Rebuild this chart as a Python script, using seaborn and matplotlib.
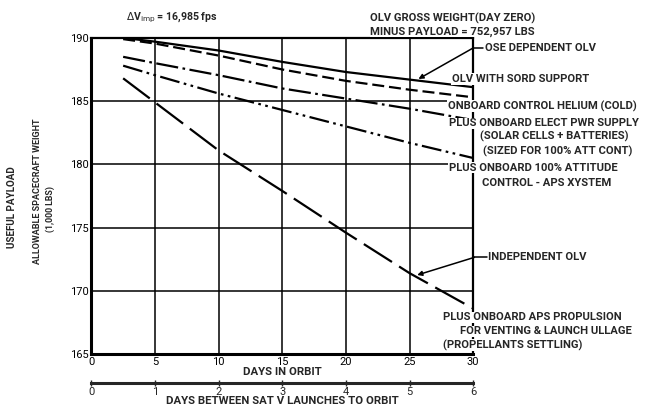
import numpy as np
import pandas as pd
import matplotlib
matplotlib.use("Agg")
import matplotlib.pyplot as plt
import seaborn as sns

sns.set_theme(style="white")
plt.rcParams["font.family"] = ["Roboto", "DejaVu Sans"]

# ── data ────────────────────────────────────────────────────
DAYS = [2.5, 5, 10, 15, 20, 25, 30]
OSE_DEPENDENT   = [190.0, 189.7, 189.0, 188.1, 187.3, 186.7, 186.1]
SORD_SUPPORT    = [189.9, 189.55, 188.6, 187.5, 186.6, 185.9, 185.3]
CONTROL_HELIUM  = [188.5, 188.0, 187.05, 186.0, 185.2, 184.4, 183.5]
ELECT_POWER     = [187.8, 187.05, 185.6, 184.3, 183.0, 181.7, 180.5]
INDEPENDENT_OLV = [186.8, 184.9, 181.1, 177.9, 174.6, 171.4, 168.6]

CASES = ["ose", "sord", "helium", "power", "independent"]
SERIES = [OSE_DEPENDENT, SORD_SUPPORT, CONTROL_HELIUM, ELECT_POWER, INDEPENDENT_OLV]
DASHES = {
    "ose": "",
    "sord": (5.4, 2.2),
    "helium": (10, 2, 1.2, 2),
    "power": (9, 2, 1.2, 2, 1.2, 2),
    "independent": (15, 3.8),
}

Y_TICKS = [165, 170, 175, 180, 185, 190]
X_TICKS = [0, 5, 10, 15, 20, 25, 30]
LAUNCH_TICKS = [0, 1, 2, 3, 4, 5, 6]

df = pd.DataFrame({
    "day": np.tile(DAYS, len(CASES)),
    "weight": np.concatenate(SERIES),
    "case": np.repeat(CASES, len(DAYS)),
})

# ── figure ──────────────────────────────────────────────────
fig = plt.figure(figsize=(6.45, 4.07), dpi=100)
ax = fig.add_axes([0.1416, 0.130, 0.592, 0.777])

sns.lineplot(data=df, x="day", y="weight", style="case", dashes=DASHES,
             color="black", linewidth=1.6, legend=False, ax=ax, zorder=3)

ax.set_xlim(0, 30)
ax.set_ylim(165, 190)
ax.set_xticks(X_TICKS)
ax.set_yticks(Y_TICKS)
ax.grid(True, color="black", linewidth=1.1)
for sp in ax.spines.values():
    sp.set_color("black")
    sp.set_linewidth(1.6)
ax.spines["left"].set_linewidth(2.2)
ax.spines["bottom"].set_linewidth(2.2)
ax.tick_params(axis="both", length=0, labelsize=8, colors="black", pad=2)
ax.set_xlabel("DAYS IN ORBIT", fontsize=8.2, fontweight="bold", labelpad=0)
ax.set_ylabel("")

# second scale: days between Saturn V launches
sec = ax.secondary_xaxis(-0.092, functions=(lambda d: d / 5, lambda n: n * 5))
sec.set_xticks(LAUNCH_TICKS)
sec.spines["bottom"].set_linewidth(2.2)
sec.tick_params(axis="x", direction="inout", length=4, width=1,
                labelsize=8, pad=1)
sec.set_xlabel("DAYS BETWEEN SAT V LAUNCHES TO ORBIT", fontsize=8.2,
               fontweight="bold", labelpad=-1)

# y label block (three lines)
fig.text(0.019, 0.491, "USEFUL PAYLOAD", rotation=90, fontsize=7.1,
         fontweight="bold", ha="center", va="center")
fig.text(0.058, 0.531, "ALLOWABLE SPACECRAFT WEIGHT", rotation=90,
         fontsize=6.5, fontweight="bold", ha="center", va="center")
fig.text(0.078, 0.486, "(1,000 LBS)", rotation=90, fontsize=6.3,
         fontweight="bold", ha="center", va="center")

# ── annotations ─────────────────────────────────────────────
box = dict(facecolor="white", edgecolor="none", pad=0.4)
txt = dict(fontsize=8.1, fontweight="bold", va="center", ha="left",
           clip_on=False, bbox=box, zorder=5)

ax.text(6.3, 191.55, r"$\Delta$V$_{\mathrm{imp}}$ = 16,985 fps",
        fontsize=7.6, fontweight="bold", ha="center", va="center", clip_on=False)
ax.text(21.9, 191.55, "OLV GROSS WEIGHT(DAY ZERO)", **txt)
ax.text(21.9, 190.5, "MINUS PAYLOAD = 752,957 LBS", **txt)
ax.text(30.9, 189.2, "OSE DEPENDENT OLV", **txt)
ax.text(28.3, 186.75, "OLV WITH SORD SUPPORT", **txt)
ax.text(28.0, 184.6, "ONBOARD CONTROL HELIUM (COLD)", **txt)
ax.text(28.1, 183.25, "PLUS ONBOARD ELECT PWR SUPPLY", **txt)
ax.text(30.5, 182.2, "(SOLAR CELLS + BATTERIES)", **txt)
ax.text(30.8, 181.05, "(SIZED FOR 100% ATT CONT)", **txt)
ax.text(28.1, 179.75, "PLUS ONBOARD 100% ATTITUDE", **txt)
ax.text(30.7, 178.5, "CONTROL - APS XYSTEM", **txt)
ax.text(31.2, 172.65, "INDEPENDENT OLV", **txt)
ax.text(27.6, 167.9, "PLUS ONBOARD APS PROPULSION", **txt)
ax.text(29.0, 166.8, "FOR VENTING & LAUNCH ULLAGE", **txt)
ax.text(27.6, 165.7, "(PROPELLANTS SETTLING)", **txt)

# leader lines with arrows
lead = dict(color="black", linewidth=1.1, clip_on=False)
ax.plot([30.8, 30.0], [189.2, 189.2], **lead)
ax.annotate("", xy=(25.7, 186.75), xytext=(30.0, 189.2),
            arrowprops=dict(arrowstyle="-|>", color="black", lw=1.1,
                            mutation_scale=7, shrinkA=0, shrinkB=0),
            annotation_clip=False)
ax.plot([31.1, 30.1], [172.65, 172.65], **lead)
ax.annotate("", xy=(25.6, 171.25), xytext=(30.1, 172.65),
            arrowprops=dict(arrowstyle="-|>", color="black", lw=1.1,
                            mutation_scale=7, shrinkA=0, shrinkB=0),
            annotation_clip=False)

fig.savefig("out.png", dpi=100)
